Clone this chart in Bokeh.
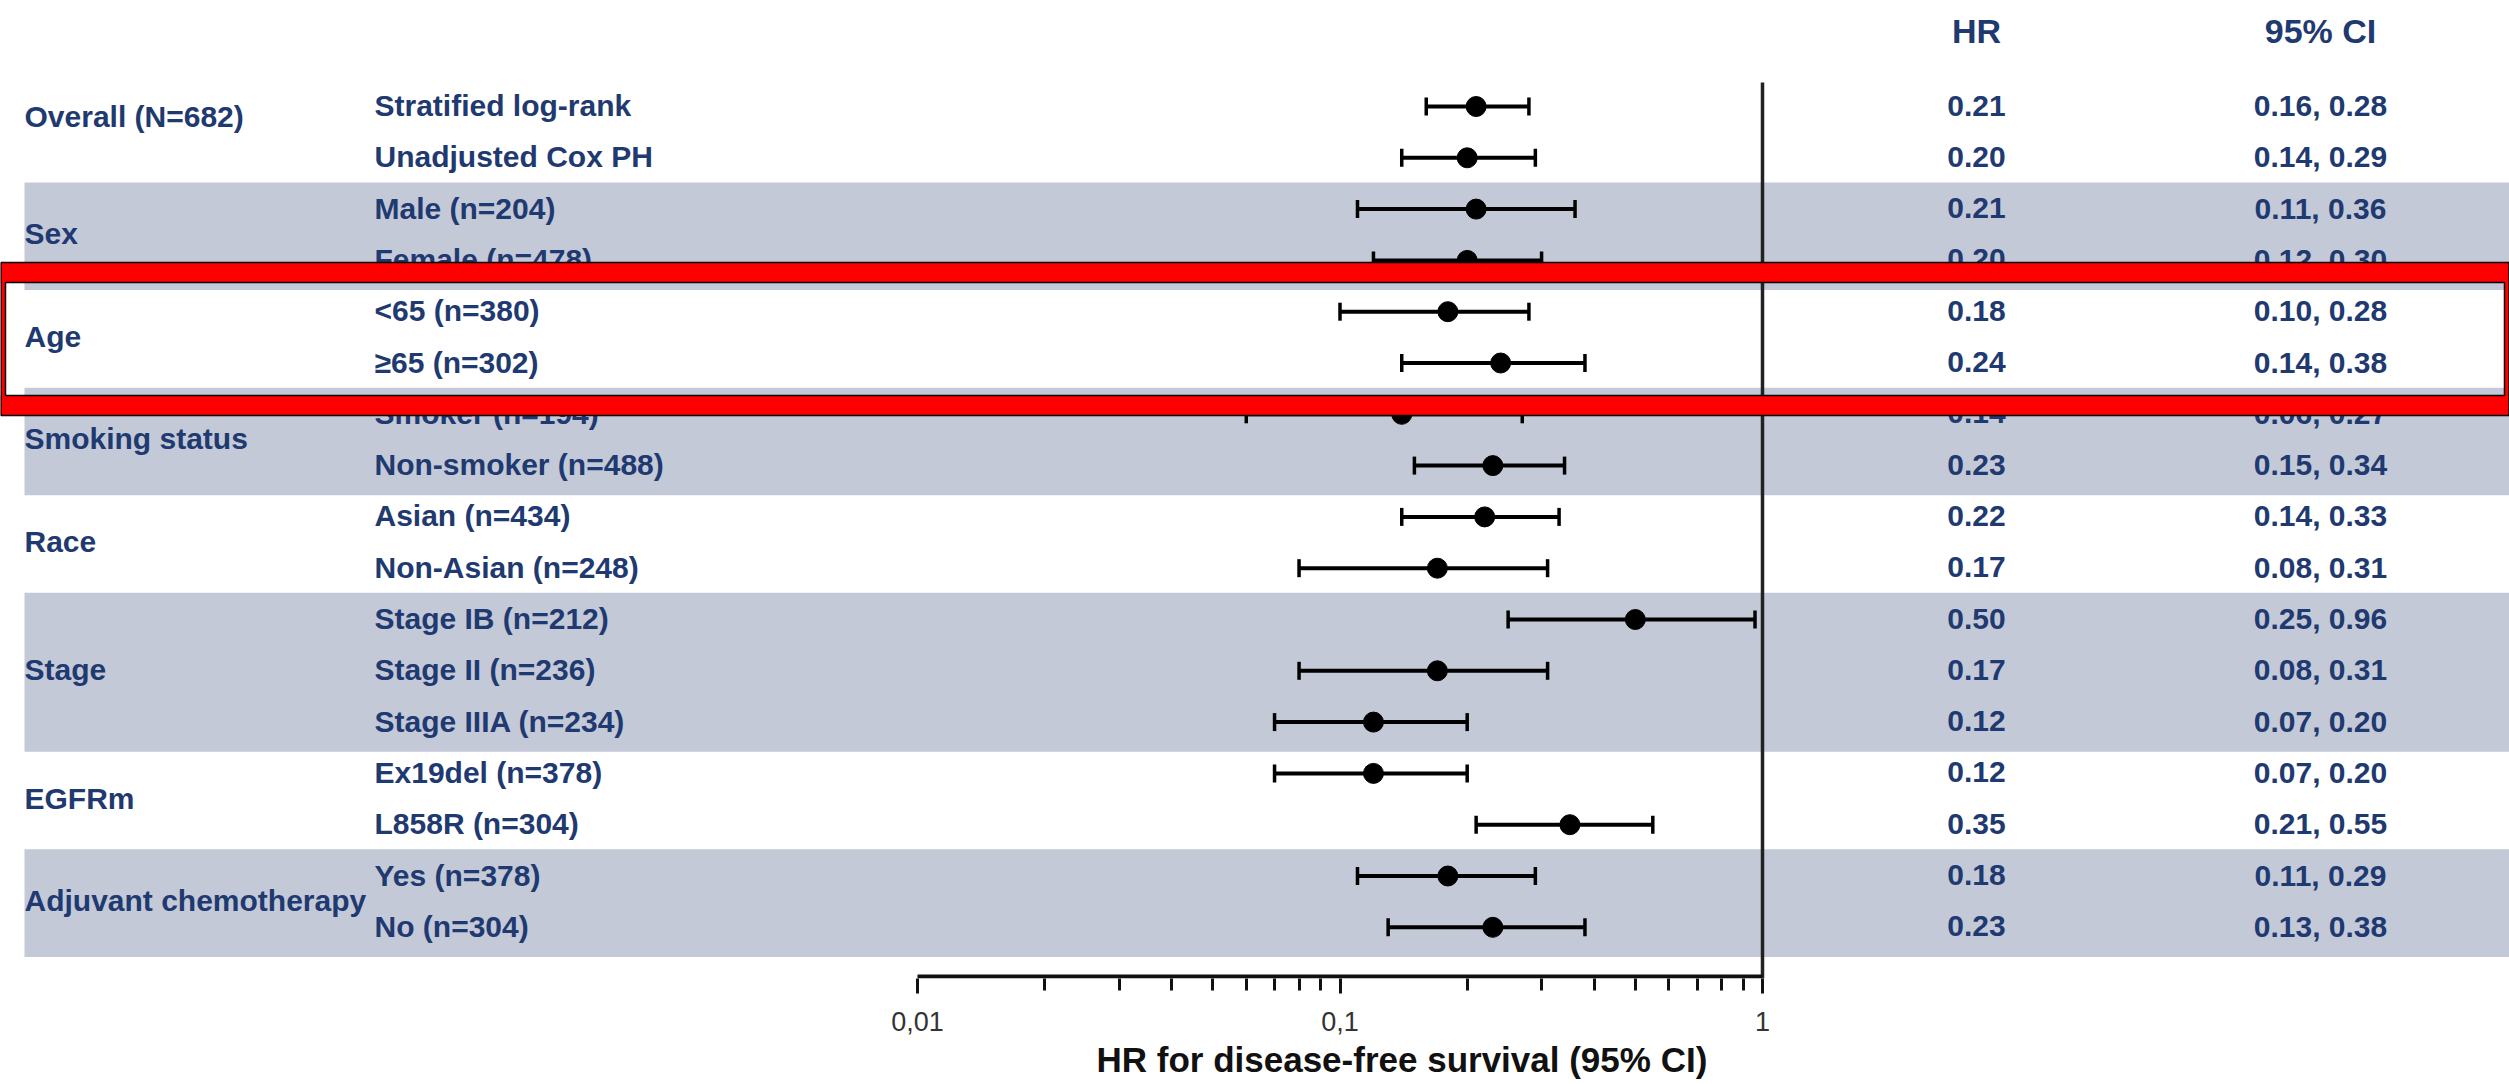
from bokeh.plotting import figure
from bokeh.models import ColumnDataSource, Range1d, LogScale, LogAxis, FixedTicker, Title
from bokeh.core.properties import value
from bokeh.embed import file_html
from bokeh.resources import INLINE

# ---------------- data ----------------
groups = ["Overall (N=682)", "Sex", "Age", "Smoking status", "Race", "Stage",
          "EGFRm", "Adjuvant chemotherapy"]
group_sizes = [2, 2, 2, 2, 2, 3, 2, 2]
group_shaded = [False, True, False, True, False, True, False, True]
highlight_group = "Age"

subgroups = ["Stratified log-rank", "Unadjusted Cox PH",
             "Male (n=204)", "Female (n=478)",
             "<65 (n=380)", "\u226565 (n=302)",
             "Smoker (n=194)", "Non-smoker (n=488)",
             "Asian (n=434)", "Non-Asian (n=248)",
             "Stage IB (n=212)", "Stage II (n=236)", "Stage IIIA (n=234)",
             "Ex19del (n=378)", "L858R (n=304)",
             "Yes (n=378)", "No (n=304)"]
hr = [0.21, 0.20, 0.21, 0.20, 0.18, 0.24, 0.14, 0.23, 0.22, 0.17,
      0.50, 0.17, 0.12, 0.12, 0.35, 0.18, 0.23]
ci_low = [0.16, 0.14, 0.11, 0.12, 0.10, 0.14, 0.06, 0.15, 0.14, 0.08,
          0.25, 0.08, 0.07, 0.07, 0.21, 0.11, 0.13]
ci_high = [0.28, 0.29, 0.36, 0.30, 0.28, 0.38, 0.27, 0.34, 0.33, 0.31,
           0.96, 0.31, 0.20, 0.20, 0.55, 0.29, 0.38]

major_ticks = [0.01, 0.1, 1]
major_tick_labels = ["0,01", "0,1", "1"]
minor_ticks = [0.02, 0.03, 0.04, 0.05, 0.06, 0.07, 0.08, 0.09,
               0.2, 0.3, 0.4, 0.5, 0.6, 0.7, 0.8, 0.9]
col_headers = ["HR", "95% CI"]
x_label = "HR for disease-free survival (95% CI)"

# ---------------- layout / style ----------------
W, H, FH = 2509, 1084, 978
X001, X1 = 917.0, 1762.0          # screen x of HR=0.01 and HR=1
DEC = (X1 - X001) / 2.0
Y0, DY = 106.0, 51.3              # first row centre, row pitch
FONT = "Liberation Sans"
NAVY = "#1f3a70"
BAND = "#c4c9d8"
TXT_DY = -1

hr_start = 10 ** (-2 - X001 / DEC)
hr_end = 10 ** ((W - X1) / DEC)

p = figure(width=W, height=H, min_border=0, min_border_bottom=H - FH,
           x_range=Range1d(0, W), y_range=Range1d(FH, 0),
           x_axis_location=None, y_axis_location=None,
           toolbar_location=None, output_backend="svg",
           outline_line_color=None, background_fill_color="white",
           border_fill_color="white")
p.extra_x_ranges = {"hr": Range1d(hr_start, hr_end)}
p.extra_x_scales = {"hr": LogScale()}
p.xgrid.visible = False
p.ygrid.visible = False

n = len(subgroups)
row_y = [Y0 + DY * i for i in range(n)]

# group rows
starts = []
s = 0
for g in group_sizes:
    starts.append(s)
    s += g

# bands
bt, bb = [], []
for gi, (st, sz) in enumerate(zip(starts, group_sizes)):
    if group_shaded[gi]:
        bt.append(row_y[st] - DY / 2 - 1)
        bb.append(row_y[st + sz - 1] + DY / 2 + 4)
p.quad(left=24, right=W, top=bt, bottom=bb, fill_color=BAND, line_color=None)

# reference line at HR = 1
p.segment(x0=[1], x1=[1], y0=[82], y1=[FH], x_range_name="hr",
          line_color="#222222", line_width=3.5)

# axis line
p.segment(x0=[major_ticks[0]], x1=[major_ticks[-1]], y0=[FH - 2], y1=[FH - 2],
          x_range_name="hr", line_color="#111111", line_width=4)

# error bars
src = ColumnDataSource(dict(y=row_y, hr=hr, lo=ci_low, hi=ci_high,
                            y_top=[y - 9 for y in row_y], y_bot=[y + 9 for y in row_y]))
p.segment(x0="lo", x1="hi", y0="y", y1="y", source=src, x_range_name="hr",
          line_color="black", line_width=4)
p.segment(x0="lo", x1="lo", y0="y_top", y1="y_bot", source=src, x_range_name="hr",
          line_color="black", line_width=3.5)
p.segment(x0="hi", x1="hi", y0="y_top", y1="y_bot", source=src, x_range_name="hr",
          line_color="black", line_width=3.5)
p.scatter(x="hr", y="y", source=src, x_range_name="hr", size=20,
          fill_color="black", line_color="black")

# texts
ty = [y + TXT_DY for y in row_y]
tsrc = ColumnDataSource(dict(
    y=ty, sub=subgroups,
    hrt=["%.2f" % v for v in hr],
    cit=["%.2f, %.2f" % (a, b) for a, b in zip(ci_low, ci_high)]))
common = dict(text_font=value(FONT), text_font_style="bold", text_font_size="30px",
              text_color=NAVY, text_baseline="middle")
p.text(x=374, y="y", text="sub", source=tsrc, text_align="left", **common)
p.text(x=1976, y="y", text="hrt", source=tsrc, text_align="center", **common)
p.text(x=2320, y="y", text="cit", source=tsrc, text_align="center", **common)

gy = []
for gi, (st, sz) in enumerate(zip(starts, group_sizes)):
    yy = sum(row_y[st:st + sz]) / sz + TXT_DY
    if gi == 0:
        yy -= 15
    gy.append(yy)
p.text(x=24, y=gy, text=groups, text_align="left", **common)

hdr = dict(common)
hdr["text_font_size"] = "34px"
p.text(x=[1976, 2320], y=[30, 30], text=col_headers, text_align="center", **hdr)

# highlight frame around the Age group
hi_i = groups.index(highlight_group)
st, sz = starts[hi_i], group_sizes[hi_i]
inner_top = 282.0
inner_bot = 395.0
p.quad(left=[0, 0, 0, W - 5], right=[W, W, 5, W],
       top=[inner_top - 20, inner_bot, inner_top - 20, inner_top - 20],
       bottom=[inner_top, inner_bot + 20, inner_bot + 20, inner_bot + 20],
       fill_color="#ff0000", line_color=None)
p.quad(left=[0.5], right=[W - 0.5], top=[inner_top - 20], bottom=[inner_bot + 20],
       fill_color=None, line_color="black", line_width=1.5)
p.quad(left=[5], right=[W - 5], top=[inner_top], bottom=[inner_bot],
       fill_color=None, line_color="black", line_width=1.5)

# x axis (log)
ax = LogAxis(x_range_name="hr")
ax.ticker = FixedTicker(ticks=major_ticks, minor_ticks=minor_ticks)
ax.major_label_overrides = dict(zip(major_ticks, major_tick_labels))
ax.axis_line_color = None
ax.major_tick_in = 0
ax.major_tick_out = 15
ax.minor_tick_in = 0
ax.minor_tick_out = 12
ax.major_tick_line_width = 3
ax.minor_tick_line_width = 3
ax.major_tick_line_color = "#111111"
ax.minor_tick_line_color = "#111111"
ax.major_label_standoff = 18
ax.major_label_text_font = FONT
ax.major_label_text_font_size = "27px"
ax.major_label_text_color = "#333333"
p.add_layout(ax, "below")

p.add_layout(Title(text=x_label, align="left", offset=1096, text_font=FONT,
                   text_font_size="35px", text_font_style="bold",
                   text_color="#111111", standoff=8), "below")

open("out.html", "w").write(file_html(p, INLINE))
